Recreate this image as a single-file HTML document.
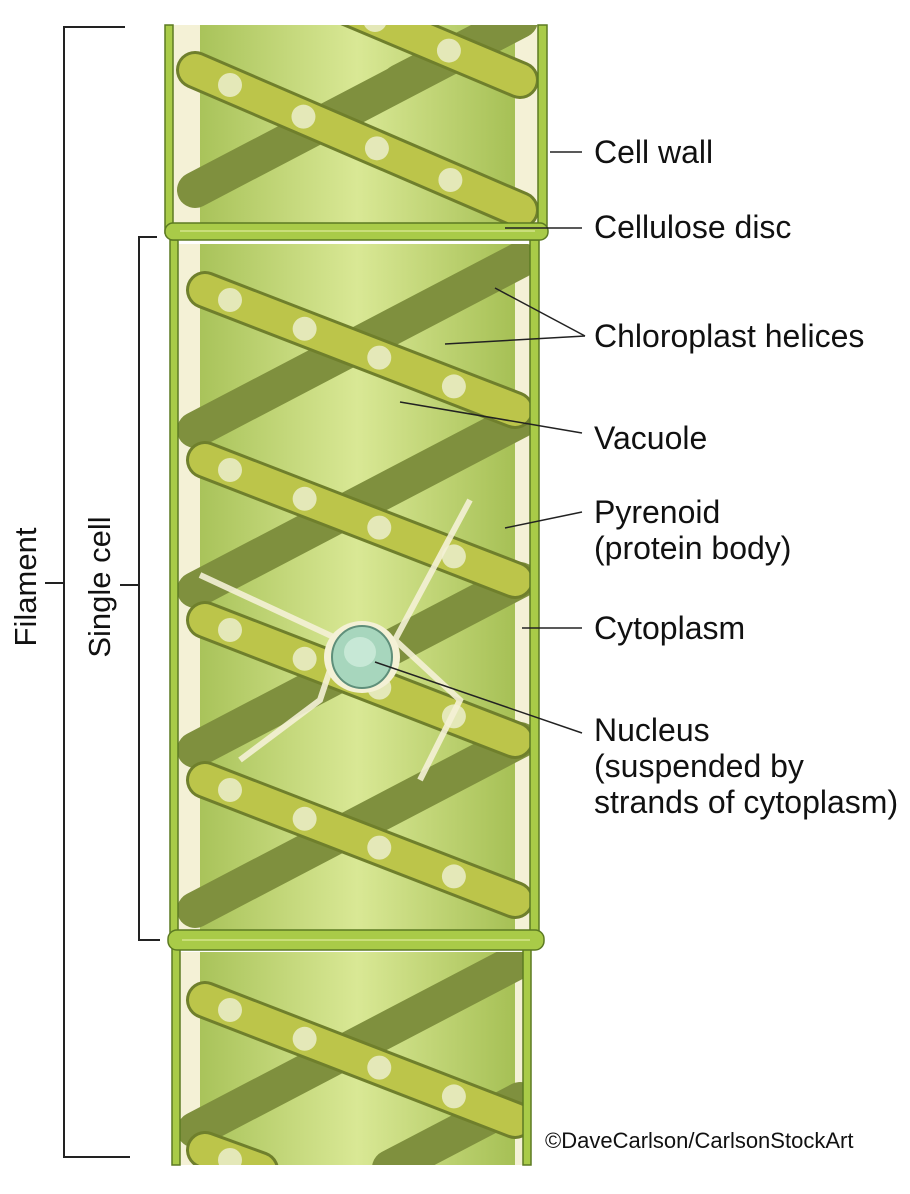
<!DOCTYPE html>
<html><head><meta charset="utf-8"><style>
html,body{margin:0;padding:0;background:#fff;width:910px;height:1194px;overflow:hidden;}
svg{display:block;}
text{font-family:"Liberation Sans",sans-serif;fill:#111;}
</style></head><body>
<svg width="910" height="1194" viewBox="0 0 910 1194" xmlns="http://www.w3.org/2000/svg" style="position:absolute;left:0;top:0;">
<defs>
<clipPath id="c1"><rect x="172" y="25" width="366" height="205"/></clipPath>
<clipPath id="c2"><rect x="176" y="244" width="356" height="690"/></clipPath>
<clipPath id="c3"><rect x="178" y="952" width="346" height="213"/></clipPath>
<linearGradient id="vg" x1="0" x2="1" y1="0" y2="0">
<stop offset="0" stop-color="#a9c35a"/><stop offset="0.5" stop-color="#d9e895"/><stop offset="1" stop-color="#a6c055"/>
</linearGradient>
<g id="bands">
<rect x="160" y="20" width="390" height="1150" fill="#f4f1d6"/>
<rect x="200" y="20" width="315" height="1150" fill="url(#vg)"/>
<g stroke="#7f903e" stroke-width="36" stroke-linecap="round" fill="none">
<line x1="520" y1="20" x2="400" y2="82"/>
<line x1="520" y1="20" x2="195" y2="190"/>
<line x1="520" y1="260" x2="195" y2="430"/>
<line x1="520" y1="420" x2="195" y2="590"/>
<line x1="520" y1="580" x2="195" y2="750"/>
<line x1="520" y1="740" x2="195" y2="910"/>
<line x1="520" y1="960" x2="195" y2="1130"/>
<line x1="520" y1="1100" x2="390" y2="1168"/>
</g>
<g fill="none" stroke-linecap="round">
<g stroke="#6f7f2c" stroke-width="38">
<path d="M330 0 L520 80"/>
<path d="M195 70 L520 210"/>
<path d="M205 290 L515 410"/>
<path d="M205 460 L515 580"/>
<path d="M205 620 L515 740"/>
<path d="M205 780 L515 900"/>
<path d="M205 1000 L515 1120"/>
<path d="M205 1150 L260 1170"/>
</g>
<g stroke="#bcc54a" stroke-width="32">
<path d="M330 0 L520 80"/>
<path d="M195 70 L520 210"/>
<path d="M205 290 L515 410"/>
<path d="M205 460 L515 580"/>
<path d="M205 620 L515 740"/>
<path d="M205 780 L515 900"/>
<path d="M205 1000 L515 1120"/>
<path d="M205 1150 L260 1170"/>
</g>
<g stroke="#e4e8b8" stroke-width="24" stroke-dasharray="0 80">
<path d="M375 20 L520 80"/>
<path d="M230 85 L520 210"/>
<path d="M230 300 L515 410"/>
<path d="M230 470 L515 580"/>
<path d="M230 630 L515 740"/>
<path d="M230 790 L515 900"/>
<path d="M230 1010 L515 1120"/>
<path d="M230 1160 L240 1164"/>
</g>
</g>
</g>
</defs>
<g clip-path="url(#c1)"><use href="#bands"/></g>
<g clip-path="url(#c2)"><use href="#bands"/>
<path d="M200 575 L340 640 L320 700 L240 760 M470 500 L395 640 L460 700 L420 780" stroke="#f4f1d6" stroke-width="6" fill="none" opacity="0.9"/>
<ellipse cx="362" cy="657" rx="38" ry="36" fill="#f4f1d6"/>
<ellipse cx="362" cy="657" rx="30" ry="31" fill="#a7d6bd" stroke="#5f8f7a" stroke-width="2"/>
<ellipse cx="360" cy="652" rx="16" ry="15" fill="#c7e8d6"/>
</g>
<g clip-path="url(#c3)"><use href="#bands"/></g>
<g fill="#a9cb48" stroke="#5c7a22" stroke-width="1.5">
<rect x="165" y="25" width="8" height="208"/>
<rect x="538" y="25" width="9" height="208"/>
<rect x="170" y="240" width="8" height="697"/>
<rect x="530" y="240" width="9" height="697"/>
<rect x="172" y="948" width="8" height="217"/>
<rect x="523" y="948" width="8" height="217"/>
<rect x="165" y="223" width="383" height="17" rx="8"/>
<rect x="168" y="930" width="376" height="20" rx="9"/>
</g>
<g stroke="#c9de7a" stroke-width="2"><line x1="180" y1="231" x2="535" y2="231"/><line x1="182" y1="940" x2="530" y2="940"/></g>
<g stroke="#222" stroke-width="2" fill="none">
<path d="M125 27 H64 V1157 H130"/>
<path d="M45 583 H64"/>
<path d="M157 237 H139 V940 H160"/>
<path d="M120 585 H139"/>
</g>
<text transform="translate(36 587) rotate(-90)" font-size="31" text-anchor="middle">Filament</text>
<text transform="translate(110 587) rotate(-90)" font-size="31" text-anchor="middle">Single cell</text>
<g stroke="#222" stroke-width="1.5">
<line x1="550" y1="152" x2="582" y2="152"/>
<line x1="505" y1="228" x2="582" y2="228"/>
<line x1="495" y1="288" x2="585" y2="336"/>
<line x1="445" y1="344" x2="585" y2="336"/>
<line x1="400" y1="402" x2="582" y2="433"/>
<line x1="505" y1="528" x2="582" y2="512"/>
<line x1="522" y1="628" x2="582" y2="628"/>
<line x1="375" y1="662" x2="582" y2="733"/>
</g>
<g font-size="32">
<text x="594" y="163">Cell wall</text>
<text x="594" y="238">Cellulose disc</text>
<text x="594" y="347">Chloroplast helices</text>
<text x="594" y="449">Vacuole</text>
<text x="594" y="523">Pyrenoid</text>
<text x="594" y="559">(protein body)</text>
<text x="594" y="639">Cytoplasm</text>
<text x="594" y="741">Nucleus</text>
<text x="594" y="777">(suspended by</text>
<text x="594" y="813">strands of cytoplasm)</text>
</g>
<text x="545" y="1148" font-size="22">©DaveCarlson/CarlsonStockArt</text>
</svg>
</body></html>
